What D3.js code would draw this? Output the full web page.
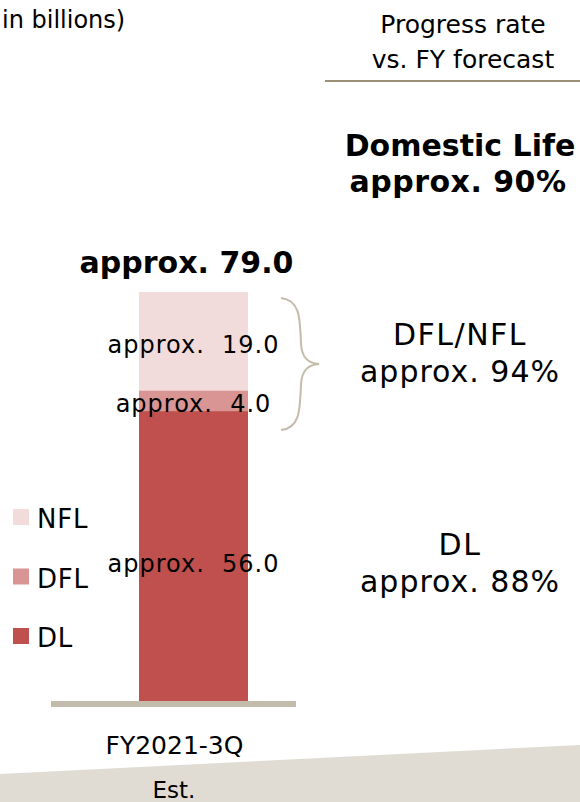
<!DOCTYPE html>
<html>
<head>
<meta charset="utf-8">
<script src="https://d3js.org/d3.v7.min.js"></script>
<style>
    body { margin: 0; padding: 0; background: #ffffff; }
    svg { display: block; font-family: 'DejaVu Sans', Verdana, sans-serif; }
    text { white-space: pre; }
</style>
</head>
<body>
<div id="chart"></div>
<script>
    // data
    const categories = ["FY2021-3Q"];
    const segments = ["DL", "DFL", "NFL"];
    const values = [56.0, 4.0, 19.0];
    const segLabels = ["approx.  56.0", "approx.  4.0", "approx.  19.0"];
    const totalLabel = "approx. 79.0";
    const legendOrder = ["NFL", "DFL", "DL"];
    const progressGroups = [["DFL/NFL", "approx. 94%"], ["DL", "approx. 88%"]];
    const progressTotal = ["Domestic Life", "approx. 90%"];

    const colors = {DL: "#c0504d", DFL: "#d99594", NFL: "#f2dbdb"};

    const W = 580, H = 802;
    const svg = d3.select("#chart").append("svg")
        .attr("width", W).attr("height", H);

    // bottom band
    svg.append("path")
        .attr("d", "M0,774 L580,745 L580,802 L0,802 Z")
        .attr("fill", "#e0dcd4");

    const x = d3.scaleBand().domain(categories).range([139, 248]).padding(0);
    const total = d3.sum(values);
    const y = d3.scaleLinear().domain([0, total]).range([701, 292]);
    const cx = x(categories[0]) + x.bandwidth() / 2;

    // stack
    let rows = [{}];
    segments.forEach((s, i) => rows[0][s] = values[i]);
    const stacked = d3.stack().keys(segments)(rows);

    const bar = svg.append("g");
    bar.selectAll("rect")
        .data(stacked)
        .enter().append("rect")
        .attr("x", x(categories[0]))
        .attr("width", x.bandwidth())
        .attr("y", d => y(d[0][1]))
        .attr("height", d => y(d[0][0]) - y(d[0][1]))
        .attr("fill", d => colors[d.key]);

    // segment labels
    const labelY = {DL: 572, DFL: 412, NFL: 353};
    bar.selectAll("text.seg")
        .data(stacked)
        .enter().append("text")
        .attr("class", "seg")
        .attr("x", cx)
        .attr("y", d => labelY[d.key])
        .attr("text-anchor", "middle")
        .attr("font-size", 24)
        .attr("letter-spacing", 1)
        .attr("fill", "#000")
        .text((d, i) => segLabels[i]);

    // baseline axis
    svg.append("rect")
        .attr("x", 51).attr("y", 701)
        .attr("width", 245).attr("height", 6)
        .attr("fill", "#c4bcab");

    svg.append("text")
        .attr("x", cx - 19).attr("y", 754)
        .attr("text-anchor", "middle").attr("font-size", 25)
        .text(categories[0]);
    svg.append("text")
        .attr("x", 174).attr("y", 798)
        .attr("text-anchor", "middle").attr("font-size", 23)
        .text("Est.");

    // total on top
    svg.append("text")
        .attr("x", cx - 7).attr("y", 273)
        .attr("text-anchor", "middle").attr("font-size", 30).attr("font-weight", "bold")
        .text(totalLabel);

    // unit
    svg.append("text")
        .attr("x", 2).attr("y", 28).attr("font-size", 24)
        .text("in billions)");

    // legend
    const lg = svg.append("g").selectAll("g")
        .data(legendOrder).enter().append("g")
        .attr("transform", (d, i) => "translate(13," + (509 + i * 59.5) + ")");
    lg.append("rect").attr("width", 16).attr("height", 16).attr("fill", d => colors[d]);
    lg.append("text").attr("x", 24).attr("y", 19).attr("font-size", 26)
        .attr("letter-spacing", 0.8).text(d => d);

    // right side: progress header
    svg.append("text").attr("x", 463).attr("y", 33).attr("text-anchor", "middle")
        .attr("font-size", 25).text("Progress rate");
    svg.append("text").attr("x", 463).attr("y", 68).attr("text-anchor", "middle")
        .attr("font-size", 25).text("vs. FY forecast");
    svg.append("line").attr("x1", 325).attr("x2", 580).attr("y1", 81).attr("y2", 81)
        .attr("stroke", "#9c8f78").attr("stroke-width", 2);

    svg.append("text").attr("x", 460).attr("y", 156).attr("text-anchor", "middle")
        .attr("font-size", 30).attr("font-weight", "bold")
        .text(progressTotal[0]);
    svg.append("text").attr("x", 458).attr("y", 192).attr("text-anchor", "middle")
        .attr("font-size", 30).attr("font-weight", "bold").attr("letter-spacing", 0.5)
        .text(progressTotal[1]);

    // brace over DFL + NFL
    const bTop = y(total) + 6, bBot = y(values[0]) + 19, bMid = (bTop + bBot) / 2;
    svg.append("path")
        .attr("d", "M281," + bTop + " C300," + (bTop + 2) + " 300," + (bTop + 20) + " 301," + (bMid - 20) +
            " C302," + (bMid - 6) + " 308," + (bMid - 1) + " 319," + bMid +
            " C308," + (bMid + 1) + " 302," + (bMid + 6) + " 301," + (bMid + 20) +
            " C300," + (bBot - 20) + " 300," + (bBot - 2) + " 281," + bBot)
        .attr("fill", "none").attr("stroke", "#c4bcab").attr("stroke-width", 2);

    const pg = svg.append("g").selectAll("g").data(progressGroups).enter().append("g");
    const pgY = [345, 555];
    pg.append("text").attr("x", 460).attr("y", (d, i) => pgY[i]).attr("text-anchor", "middle")
        .attr("font-size", 30).attr("letter-spacing", 1.5).text(d => d[0]);
    pg.append("text").attr("x", 460).attr("y", (d, i) => pgY[i] + 37).attr("text-anchor", "middle")
        .attr("font-size", 30).attr("letter-spacing", 1).text(d => d[1]);
</script>
</body>
</html>
